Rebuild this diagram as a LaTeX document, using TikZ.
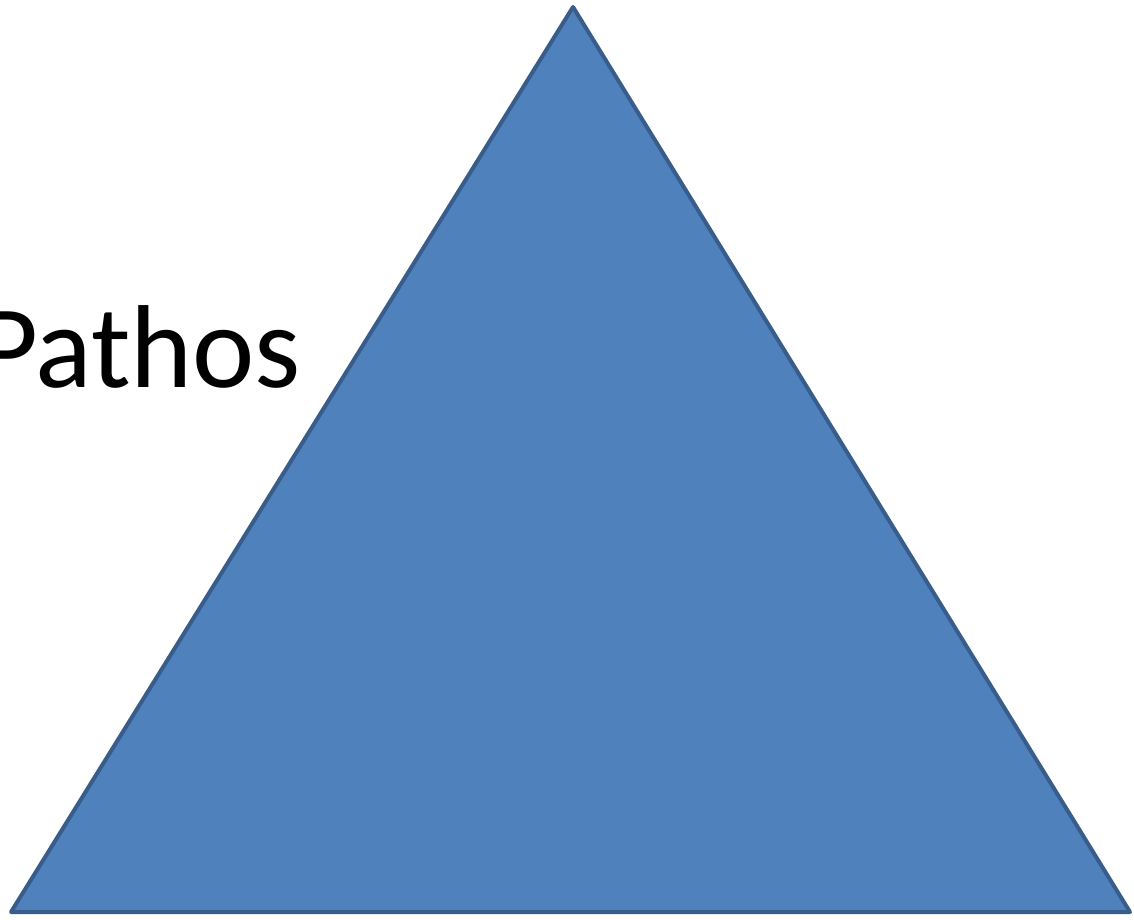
\documentclass[tikz,border=0pt]{standalone}
\usepackage{fontspec}
\setmainfont{Carlito}
\definecolor{trifill}{HTML}{4F81BD}
\definecolor{triedge}{HTML}{385D8A}
\tikzset{tri/.style={fill=trifill,draw=triedge,line width=4pt,line join=round},
  lbl/.style={anchor=base west,inner sep=0pt,font=\fontsize{118}{130}\selectfont}}
\begin{document}
\begin{tikzpicture}[x=1pt,y=-1pt]
\useasboundingbox (0,0) rectangle (1134,919);
\coordinate (apex) at (573,7);
\coordinate (bl) at (11,912);
\coordinate (br) at (1130,912);
\draw[tri] (apex) -- (br) -- (bl) -- cycle;
\node[lbl] (pathos) at (-23,387) {Pathos};
\end{tikzpicture}
\end{document}
